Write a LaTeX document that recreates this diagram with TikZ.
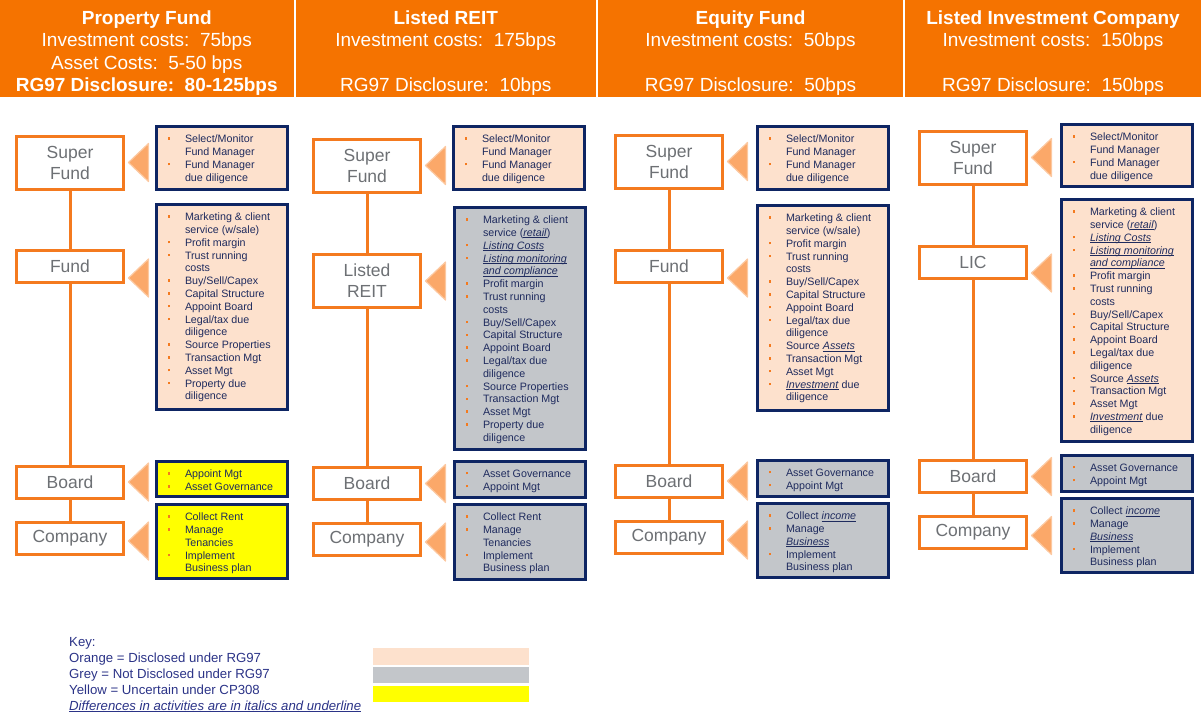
\documentclass[tikz,border=0pt]{standalone}
\usepackage{fontspec}
\setmainfont{Liberation Sans}
\usetikzlibrary{positioning}
\definecolor{hdorange}{HTML}{F57300}
\definecolor{lnorange}{HTML}{F47A1F}
\definecolor{tiporange}{HTML}{FBA869}
\definecolor{tipedge}{HTML}{FCC8A0}
\definecolor{peach}{HTML}{FDE1CD}
\definecolor{slate}{HTML}{C3C6CA}
\definecolor{lemon}{HTML}{FFFF00}
\definecolor{navy}{HTML}{0E2563}
\definecolor{inktext}{HTML}{1F2B5E}
\definecolor{labgray}{HTML}{6D7074}
\definecolor{keyblue}{HTML}{2B3387}
%% one bullet of an activity list
\newcommand{\itm}[1]{\par\hangindent=29pt\hangafter=1\noindent\hbox to 29pt{\hskip 11.5pt\textcolor{lnorange}{\rule[3pt]{2.4pt}{2.4pt}}\hfil}#1}
%% differences: italics and underline
\newcommand{\dif}[1]{\setbox0\hbox{\textit{#1}}\rlap{\rule[-1.3pt]{\wd0}{0.5pt}}\box0\relax}
%% activity list of a given height
\newcommand{\acts}[2]{\vbox to #1{\hsize=131pt\raggedright\vskip 9pt #2\par\vfil}}
\begin{document}
\begin{tikzpicture}[x=1pt,y=-1pt,
    head/.style={fill=hdorange,text=white,align=center,inner sep=0pt,font=\fontsize{19}{22.4}\selectfont},
    entity/.style={draw=lnorange,line width=3pt,fill=white,text=labgray,align=center,inner sep=0pt,
        minimum width=107pt,minimum height=32pt,font=\fontsize{17.5}{21}\selectfont},
    act/.style={draw=navy,line width=3pt,inner sep=0pt,anchor=north west,text=inktext,font=\fontsize{10.7}{12.8}\selectfont},
    stem/.style={draw=lnorange,line width=3pt},
    pointer/.style={fill=tiporange,draw=tipedge,line width=1.2pt,line join=round},
    swatch/.style={inner sep=0pt,minimum width=156pt,minimum height=16.5pt}]
    \useasboundingbox (0,0) rectangle (1201,713);
    %% headers
    \node[head,minimum width=293.5pt,minimum height=97pt] (pf-head) at (146.75,48.5)
        {\rule{0pt}{23pt}\textbf{Property Fund}\\Investment costs:~~75bps\\Asset Costs:~~5-50 bps\\\textbf{RG97 Disclosure:~~80-125bps}};
    \node[head,minimum width=300.5pt,minimum height=97pt] (reit-head) at (445.75,48.5)
        {\rule{0pt}{23pt}\textbf{Listed REIT}\\Investment costs:~~175bps\\\mbox{}\\RG97 Disclosure:~~10bps};
    \node[head,minimum width=305pt,minimum height=97pt] (ef-head) at (750.5,48.5)
        {\rule{0pt}{23pt}\textbf{Equity Fund}\\Investment costs:~~50bps\\\mbox{}\\RG97 Disclosure:~~50bps};
    \node[head,minimum width=296pt,minimum height=97pt] (lic-head) at (1053,48.5)
        {\rule{0pt}{23pt}\textbf{Listed Investment Company}\\Investment costs:~~150bps\\\mbox{}\\RG97 Disclosure:~~150bps};

    %% property fund
    \node[entity,minimum height=53pt] (pf-super) at (70,162.5) {Super\\Fund};
    \node[entity] (pf-fund) at (70,266) {Fund};
    \node[entity] (pf-board) at (70,482) {Board};
    \node[entity] (pf-company) at (70,538) {Company};
    \draw[stem] (pf-super) -- (pf-fund) (pf-fund) -- (pf-board) (pf-board) -- (pf-company);
    \node[act,fill=peach] (pf-a1) at (154.5,124.5) {\acts{63pt}{%
        \itm{Select/Monitor\newline Fund Manager}
        \itm{Fund Manager\newline due diligence}}};
    \node[act,fill=peach] (pf-a2) at (154.5,202.5) {\acts{205pt}{%
        \itm{Marketing \& client\newline service (w/sale)}
        \itm{Profit margin}
        \itm{Trust running\newline costs}
        \itm{Buy/Sell/Capex}
        \itm{Capital Structure}
        \itm{Appoint Board}
        \itm{Legal/tax due\newline diligence}
        \itm{Source Properties}
        \itm{Transaction Mgt}
        \itm{Asset Mgt}
        \itm{Property due\newline diligence}}};
    \node[act,fill=lemon] (pf-a3) at (154.5,459.5) {\acts{35pt}{%
        \itm{Appoint Mgt}
        \itm{Asset Governance}}};
    \node[act,fill=lemon] (pf-a4) at (154.5,502.5) {\acts{74pt}{%
        \itm{Collect Rent}
        \itm{Manage\newline Tenancies}
        \itm{Implement\newline Business plan}}};
    \fill[pointer] ([xshift=3.5pt]pf-super.east) -- ++(20,19) -- ++(0,-38) -- cycle;
    \fill[pointer] ([xshift=3.5pt,yshift=-12pt]pf-fund.east) -- ++(20,19) -- ++(0,-38) -- cycle;
    \fill[pointer] ([xshift=3.5pt]pf-board.east) -- ++(20,19) -- ++(0,-38) -- cycle;
    \fill[pointer] ([xshift=3.5pt,yshift=-3pt]pf-company.east) -- ++(20,19) -- ++(0,-38) -- cycle;

    %% listed reit
    \node[entity,minimum height=53pt] (reit-super) at (367,165.5) {Super\\Fund};
    \node[entity,minimum height=53pt] (reit-reit) at (367,281) {Listed\\REIT};
    \node[entity] (reit-board) at (367,483.5) {Board};
    \node[entity] (reit-company) at (367,539) {Company};
    \draw[stem] (reit-super) -- (reit-reit) (reit-reit) -- (reit-board) (reit-board) -- (reit-company);
    \node[act,fill=peach] (reit-a1) at (451.5,124.5) {\acts{63pt}{%
        \itm{Select/Monitor\newline Fund Manager}
        \itm{Fund Manager\newline due diligence}}};
    \node[act,fill=slate] (reit-a2) at (452.5,205.5) {\acts{242pt}{%
        \itm{Marketing \& client\newline service (\dif{retail})}
        \itm{\dif{Listing Costs}}
        \itm{\dif{Listing monitoring}\newline\dif{and compliance}}
        \itm{Profit margin}
        \itm{Trust running\newline costs}
        \itm{Buy/Sell/Capex}
        \itm{Capital Structure}
        \itm{Appoint Board}
        \itm{Legal/tax due\newline diligence}
        \itm{Source Properties}
        \itm{Transaction Mgt}
        \itm{Asset Mgt}
        \itm{Property due\newline diligence}}};
    \node[act,fill=slate] (reit-a3) at (452.5,459.5) {\acts{36pt}{%
        \itm{Asset Governance}
        \itm{Appoint Mgt}}};
    \node[act,fill=slate] (reit-a4) at (452.5,502.5) {\acts{75pt}{%
        \itm{Collect Rent}
        \itm{Manage\newline Tenancies}
        \itm{Implement\newline Business plan}}};
    \fill[pointer] ([xshift=3.5pt]reit-super.east) -- ++(20,19) -- ++(0,-38) -- cycle;
    \fill[pointer] ([xshift=3.5pt]reit-reit.east) -- ++(20,19) -- ++(0,-38) -- cycle;
    \fill[pointer] ([xshift=3.5pt]reit-board.east) -- ++(20,19) -- ++(0,-38) -- cycle;
    \fill[pointer] ([xshift=3.5pt,yshift=-3pt]reit-company.east) -- ++(20,19) -- ++(0,-38) -- cycle;

    %% equity fund
    \node[entity,minimum height=53pt] (ef-super) at (669,161.5) {Super\\Fund};
    \node[entity] (ef-fund) at (669,266) {Fund};
    \node[entity] (ef-board) at (669,481) {Board};
    \node[entity] (ef-company) at (669,537) {Company};
    \draw[stem] (ef-super) -- (ef-fund) (ef-fund) -- (ef-board) (ef-board) -- (ef-company);
    \node[act,fill=peach] (ef-a1) at (755.5,124.5) {\acts{63pt}{%
        \itm{Select/Monitor\newline Fund Manager}
        \itm{Fund Manager\newline due diligence}}};
    \node[act,fill=peach] (ef-a2) at (755.5,203.5) {\acts{205pt}{%
        \itm{Marketing \& client\newline service (w/sale)}
        \itm{Profit margin}
        \itm{Trust running\newline costs}
        \itm{Buy/Sell/Capex}
        \itm{Capital Structure}
        \itm{Appoint Board}
        \itm{Legal/tax due\newline diligence}
        \itm{Source \dif{Assets}}
        \itm{Transaction Mgt}
        \itm{Asset Mgt}
        \itm{\dif{Investment} due\newline diligence}}};
    \node[act,fill=slate] (ef-a3) at (755.5,458.5) {\acts{36pt}{%
        \itm{Asset Governance}
        \itm{Appoint Mgt}}};
    \node[act,fill=slate] (ef-a4) at (755.5,501.5) {\acts{74pt}{%
        \itm{Collect \dif{income}}
        \itm{Manage\newline\dif{Business}}
        \itm{Implement\newline Business plan}}};
    \fill[pointer] ([xshift=3.5pt]ef-super.east) -- ++(20,19) -- ++(0,-38) -- cycle;
    \fill[pointer] ([xshift=3.5pt,yshift=-12pt]ef-fund.east) -- ++(20,19) -- ++(0,-38) -- cycle;
    \fill[pointer] ([xshift=3.5pt]ef-board.east) -- ++(20,19) -- ++(0,-38) -- cycle;
    \fill[pointer] ([xshift=3.5pt,yshift=-3pt]ef-company.east) -- ++(20,19) -- ++(0,-38) -- cycle;

    %% listed investment company
    \node[entity,minimum height=53pt] (lic-super) at (973,157.5) {Super\\Fund};
    \node[entity] (lic-lic) at (973,262.5) {LIC};
    \node[entity] (lic-board) at (973,476.5) {Board};
    \node[entity] (lic-company) at (973,532.5) {Company};
    \draw[stem] (lic-super) -- (lic-lic) (lic-lic) -- (lic-board) (lic-board) -- (lic-company);
    \node[act,fill=peach] (lic-a1) at (1059.5,122.5) {\acts{62pt}{%
        \itm{Select/Monitor\newline Fund Manager}
        \itm{Fund Manager\newline due diligence}}};
    \node[act,fill=peach] (lic-a2) at (1059.5,197.5) {\acts{242pt}{%
        \itm{Marketing \& client\newline service (\dif{retail})}
        \itm{\dif{Listing Costs}}
        \itm{\dif{Listing monitoring}\newline\dif{and compliance}}
        \itm{Profit margin}
        \itm{Trust running\newline costs}
        \itm{Buy/Sell/Capex}
        \itm{Capital Structure}
        \itm{Appoint Board}
        \itm{Legal/tax due\newline diligence}
        \itm{Source \dif{Assets}}
        \itm{Transaction Mgt}
        \itm{Asset Mgt}
        \itm{\dif{Investment} due\newline diligence}}};
    \node[act,fill=slate] (lic-a3) at (1059.5,453.5) {\acts{36pt}{%
        \itm{Asset Governance}
        \itm{Appoint Mgt}}};
    \node[act,fill=slate] (lic-a4) at (1059.5,496.5) {\acts{74pt}{%
        \itm{Collect \dif{income}}
        \itm{Manage\newline\dif{Business}}
        \itm{Implement\newline Business plan}}};
    \fill[pointer] ([xshift=3.5pt]lic-super.east) -- ++(20,19) -- ++(0,-38) -- cycle;
    \fill[pointer] ([xshift=3.5pt,yshift=-10.5pt]lic-lic.east) -- ++(20,19) -- ++(0,-38) -- cycle;
    \fill[pointer] ([xshift=3.5pt]lic-board.east) -- ++(20,19) -- ++(0,-38) -- cycle;
    \fill[pointer] ([xshift=3.5pt,yshift=-3pt]lic-company.east) -- ++(20,19) -- ++(0,-38) -- cycle;

    %% key
    \node[anchor=north west,align=left,inner sep=0pt,text=keyblue,font=\fontsize{13.2}{16}\selectfont] (key) at (69,637)
        {Key:\\Orange = Disclosed under RG97\\Grey = Not Disclosed under RG97\\Yellow = Uncertain under CP308\\
        \dif{Differences in activities are in italics and underline}};
    \node[swatch,fill=peach] (key-orange) at (451,656.25) {};
    \node[swatch,fill=slate] (key-grey) at (451,675) {};
    \node[swatch,fill=lemon] (key-yellow) at (451,694) {};
\end{tikzpicture}
\end{document}
